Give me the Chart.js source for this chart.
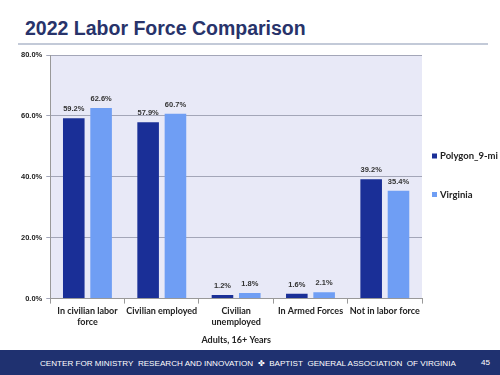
<!DOCTYPE html>
<html>
<head>
<meta charset="utf-8">
<script src="https://cdn.jsdelivr.net/npm/chart.js@4/dist/chart.umd.min.js"></script>
<style>
  html,body{margin:0;padding:0;width:500px;height:375px;overflow:hidden;background:#fff;}
  #title{position:absolute;left:25px;top:17px;font:bold 19.5px "Liberation Sans",Arial,sans-serif;color:#28336a;white-space:nowrap;}
  #rule{position:absolute;left:18px;top:43px;width:470px;height:2px;background:#c3cad8;}
  #wrap{position:absolute;left:0;top:45px;width:500px;height:305px;}
  #footer{position:absolute;left:0;top:350px;width:500px;height:25px;background:#1f3170;color:#fff;font:8.1px "Liberation Sans",Arial,sans-serif;}
  #footer .t{position:absolute;left:40px;top:8px;white-space:nowrap;}
  #footer .n{position:absolute;left:481px;top:8px;}
</style>
</head>
<body>
<div id="title">2022 Labor Force Comparison</div>
<div id="rule"></div>
<div id="wrap"><canvas id="c" width="500" height="305"></canvas></div>
<div id="footer"><span class="t">CENTER FOR MINISTRY&nbsp; RESEARCH AND INNOVATION &nbsp;✤&nbsp; BAPTIST&nbsp; GENERAL ASSOCIATION&nbsp; OF VIRGINIA</span><span class="n">45</span></div>
<script>
const categories = [["In civilian labor","force"],"Civilian employed",["Civilian","unemployed"],"In Armed Forces","Not in labor force"];
const seriesNames = ["Polygon_9-mi","Virginia"];
const polygonValues = [59.2, 57.9, 1.2, 1.6, 39.2];
const virginiaValues = [62.6, 60.7, 1.8, 2.1, 35.4];
const yTicks = [0, 20, 40, 60, 80];
const xAxisTitle = "Adults, 16+ Years";

const bgPlugin = {
  id:'plotBg',
  beforeDraw(chart){
    const {ctx, chartArea:a} = chart;
    ctx.save();
    ctx.fillStyle = '#e8e9f7';
    ctx.fillRect(a.left, a.top, a.right-a.left, a.bottom-a.top);
    ctx.restore();
  }
};
const labelPlugin = {
  id:'valLabels',
  afterDatasetsDraw(chart){
    const ctx = chart.ctx;
    ctx.save();
    ctx.font = 'bold 7.5px "Liberation Sans", Arial, sans-serif';
    ctx.fillStyle = '#333';
    ctx.textAlign = 'center';
    ctx.textBaseline = 'middle';
    chart.data.datasets.forEach((ds,i)=>{
      chart.getDatasetMeta(i).data.forEach((bar,j)=>{
        ctx.fillText(ds.data[j].toFixed(1)+'%', bar.x, bar.y-9);
      });
    });
    ctx.restore();
  }
};
const legendPlugin = {
  id:'sideLegend',
  afterDraw(chart){
    const ctx = chart.ctx, a = chart.chartArea;
    ctx.save();
    ctx.font = 'bold 9.5px Lato, "Liberation Sans", Arial, sans-serif';
    ctx.textBaseline = 'middle';
    ctx.textAlign = 'left';
    const x = a.right + 10;
    const ys = [111, 149.5];
    chart.data.datasets.forEach((ds,i)=>{
      ctx.fillStyle = ds.backgroundColor;
      ctx.fillRect(x, ys[i]-2.5, 5, 5);
      ctx.fillStyle = '#222';
      ctx.fillText(ds.label, x+8, ys[i]);
    });
    ctx.restore();
  }
};

new Chart(document.getElementById('c'), {
  type:'bar',
  data:{
    labels:categories,
    datasets:[
      {label:seriesNames[0], data:polygonValues, backgroundColor:'#1a2f97', categoryPercentage:0.735, barPercentage:0.79},
      {label:seriesNames[1], data:virginiaValues, backgroundColor:'#6f9ef4', categoryPercentage:0.735, barPercentage:0.79}
    ]
  },
  options:{
    responsive:false,
    animation:false,
    devicePixelRatio:1,
    layout:{padding:{top:10,right:78,left:17,bottom:5}},
    plugins:{
      legend:{display:false},
      tooltip:{enabled:false}
    },
    scales:{
      x:{
        grid:{display:true, drawOnChartArea:false, drawTicks:true, tickLength:5, color:'#999', offset:true},
        border:{color:'#999'},
        ticks:{color:'#222', font:{family:'Lato, "Open Sans", sans-serif', size:9, weight:'bold'}, maxRotation:0, autoSkip:false, padding:2},
        title:{display:true, text:xAxisTitle, color:'#222', font:{family:'Lato, sans-serif', size:9, weight:'bold'}, padding:{top:5,bottom:0}}
      },
      y:{
        min:0, max:80,
        afterBuildTicks(axis){ axis.ticks = yTicks.map(v=>({value:v})); },
        grid:{color:'#a3a6b8', tickLength:4, drawTicks:true},
        border:{color:'#999'},
        ticks:{color:'#222', padding:4, font:{family:'"Liberation Sans", Arial, sans-serif', size:7.5, weight:'bold'}, callback:v=>v.toFixed(1)+'%'}
      }
    }
  },
  plugins:[bgPlugin,labelPlugin,legendPlugin]
});
</script>
</body>
</html>
